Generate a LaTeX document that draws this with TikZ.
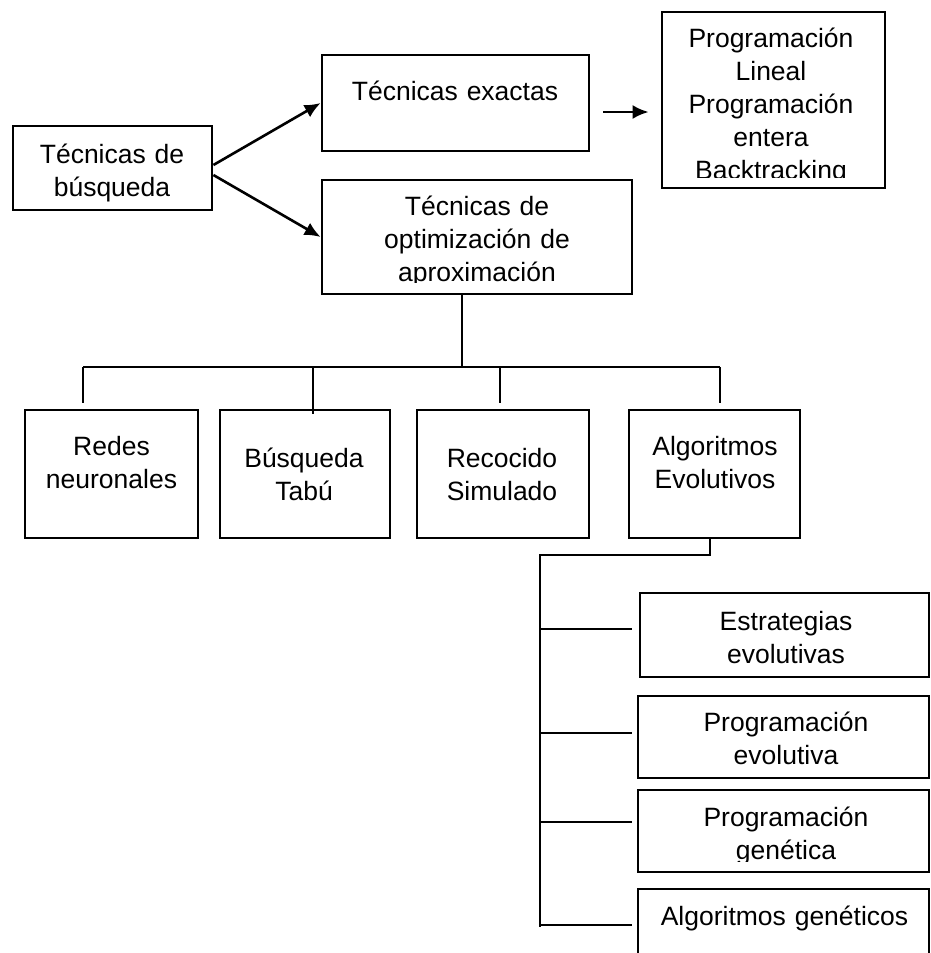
\documentclass[tikz,border=0pt]{standalone}
\usepackage{fontspec}
\setmainfont{Liberation Sans}
\usepackage{tikz}
\usetikzlibrary{positioning,arrows.meta}

\begin{document}
\begin{tikzpicture}[x=1pt,y=-1pt,
  box/.style={draw,black,line width=2.8pt,rectangle,inner sep=0pt},
  txt/.style={anchor=base,align=center,inner sep=0pt,text width=300pt,font=\fontsize{26.5}{33}\selectfont},
  line/.style={black,line width=2.6pt},
  arr/.style={black,line width=2.6pt,-{Latex[length=16pt,width=14pt]}}]
\useasboundingbox (0,0) rectangle (930,953);

\node[box,minimum width=199,minimum height=84] (busq) at (112.5,168) {};
\node[box,minimum width=267,minimum height=96] (exactas) at (455.5,103) {};
\node[box,minimum width=223,minimum height=176] (prog) at (773.5,100) {};
\node[box,minimum width=310,minimum height=114] (opt) at (477,237) {};

\node[box,minimum width=173,minimum height=128] (redes) at (111.5,474) {};
\node[box,minimum width=170,minimum height=128] (tabu) at (305,474) {};
\node[box,minimum width=172,minimum height=128] (recocido) at (503,474) {};
\node[box,minimum width=171,minimum height=128] (algevo) at (714.5,474) {};

\node[box,minimum width=289,minimum height=84] (estr) at (784.5,635) {};
\node[box,minimum width=291,minimum height=82] (progevo) at (783.5,737) {};
\node[box,minimum width=291,minimum height=82] (proggen) at (783.5,831) {};
\node[box,minimum width=291,minimum height=111] (alggen) at (783.5,944.5) {};

\node[txt] (busqT) at (112,163) {Técnicas de\\búsqueda};
\node[txt] (exactasT) at (455,100) {Técnicas exactas};
\begin{scope}
\clip (prog.north west) rectangle (prog.east |- 0,177);
\node[txt] (progT) at (771,47) {Programación\\Lineal\\Programación\\entera\\Backtracking};
\end{scope}
\begin{scope}
\clip (opt.north west) rectangle (opt.east |- 0,282);
\node[txt] (optT) at (477,215) {Técnicas de\\optimización de\\aproximación};
\end{scope}

\node[txt] (redesT) at (111.5,455) {Redes\\neuronales};
\node[txt] (tabuT) at (304,467) {Búsqueda\\Tabú};
\node[txt] (recocidoT) at (502,467) {Recocido\\Simulado};
\node[txt] (algevoT) at (715,455) {Algoritmos\\Evolutivos};

\node[txt] (estrT) at (786,630) {Estrategias\\evolutivas};
\node[txt] (progevoT) at (786,731) {Programación\\evolutiva};
\begin{scope}
\clip (proggen.north west) rectangle (proggen.east |- 0,861.5);
\node[txt] (proggenT) at (786,826) {Programación\\genética};
\end{scope}
\node[txt] (alggenT) at (784.5,925) {Algoritmos genéticos};

\draw[arr] (busq.east |- 0,165) -- (exactas.west);
\draw[arr] (busq.east |- 0,175) -- (opt.west);
\draw[arr,shorten <=13pt,shorten >=12pt] (exactas.east |- 0,112) -- (prog.west |- 0,112);

\coordinate (bus) at (462,367);
\draw[line] (opt.south -| bus) -- (bus);
\draw[line] (83,367) -- (720,367);
\foreach \n/\x/\s in {redes/83/6pt,tabu/313/-5pt,recocido/500/6pt,algevo/720/6pt}
  \draw[line,shorten >=\s] (\x,367) -- (\x,0 |- \n.north);

\coordinate (spine) at (540,555);
\draw[line] (710,0 |- algevo.south) -- (710,555) -- (spine) -- (540,927);
\foreach \n/\y/\s in {estr/629/7pt,progevo/733/5pt,proggen/822/5pt,alggen/925/5pt}
  \draw[line,shorten >=\s] (540,\y) -- (\n.west |- 0,\y);
\end{tikzpicture}
\end{document}
